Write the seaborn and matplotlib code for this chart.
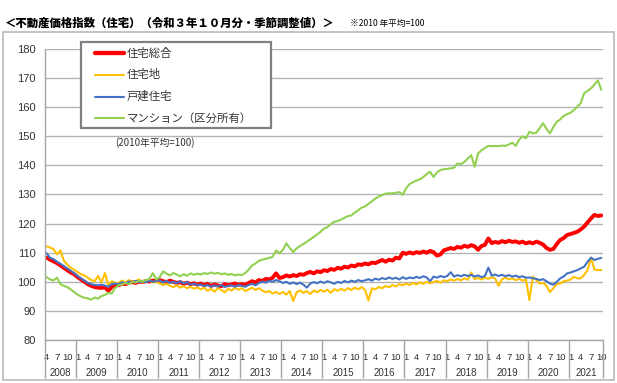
import matplotlib
matplotlib.use("Agg")
import matplotlib.pyplot as plt
import seaborn as sns
import pandas as pd
from matplotlib.patches import Rectangle
from matplotlib.lines import Line2D

# ---------------- data (monthly, 2008-04 .. 2021-10) ----------------
years = list(range(2008, 2022))
series_names = ["住宅総合", "住宅地", "戸建住宅", "マンション（区分所有）"]
series_colors = ["#FF0000", "#FFC000", "#4472C4", "#92D050"]

sogo = [
    108.3, 107.6, 107.0, 106.4, 105.6, 104.8, 104.0, 103.2, 102.6,
    101.6, 100.8, 100.0, 99.2, 98.6, 98.2, 98.0, 97.9, 98.1, 96.9, 98.2, 99.0,
    98.8, 99.4, 99.2, 99.7, 99.9, 99.6, 100.1, 99.9, 100.3, 100.1, 100.4, 100.2,
    100.6, 100.2, 99.9, 100.4, 100.0, 99.6, 99.9, 99.3, 99.7, 99.2, 99.5, 99.0,
    99.4, 98.9, 99.3, 98.6, 99.1, 98.7, 98.5, 99.2, 98.8, 99.1, 99.4, 99.0,
    99.2, 99.0, 99.6, 100.2, 99.8, 100.6, 100.3, 101.0, 100.8, 101.4, 102.9, 101.3,
    101.6, 102.2, 101.8, 102.3, 102.0, 102.6, 102.4, 103.0, 103.4, 102.9, 103.6, 103.3,
    104.0, 103.7, 104.4, 104.1, 104.8, 104.5, 105.2, 104.9, 105.6, 105.3, 106.0, 105.8,
    106.3, 106.0, 106.6, 106.4, 107.0, 107.5, 106.9, 107.6, 107.3, 108.3, 108.0, 110.0,
    109.6, 110.1, 109.7, 110.2, 109.9, 110.4, 110.0, 110.6, 110.2, 109.0, 109.4, 110.8,
    111.2, 111.6, 111.3, 112.0, 111.7, 112.4, 112.0, 112.6, 112.2, 111.0, 112.3, 112.7,
    114.9, 113.3, 113.7, 113.4, 114.0, 113.6, 114.1, 113.7, 113.9, 113.4, 113.8, 113.2,
    113.6, 113.2, 113.8, 113.4, 112.8, 111.6, 111.0, 111.3, 113.0, 114.4, 115.0, 116.1,
    116.4, 116.8, 117.2, 118.0, 119.0, 120.4, 121.8, 123.0, 122.6, 122.8,
]

takuchi = [
    112.2, 111.8, 111.2, 109.4, 110.8, 107.2, 106.0, 104.8, 104.2,
    103.4, 102.6, 102.2, 101.4, 100.6, 100.2, 102.0, 99.8, 103.0, 98.9, 100.2, 99.6,
    99.6, 100.4, 99.8, 100.6, 99.9, 100.3, 100.8, 99.7, 100.2, 100.5, 99.8, 100.1,
    99.4, 98.9, 99.3, 98.6, 98.2, 98.8, 98.0, 98.5, 97.8, 98.3, 97.6, 98.1,
    97.4, 98.0, 96.9, 97.6, 96.6, 97.8, 97.2, 96.4, 97.6, 97.0, 97.9, 97.3,
    97.8, 96.8, 97.4, 98.0, 97.2, 97.8, 97.0, 96.4, 96.8, 96.0, 96.5, 95.8,
    96.5, 95.6, 96.8, 93.4, 96.4, 97.0, 96.2, 96.8, 95.8, 97.0, 96.4, 97.2,
    96.6, 97.3, 96.2, 97.5, 96.9, 97.6, 97.0, 97.8, 97.2, 98.0, 97.4, 98.2,
    97.2, 93.6, 97.8, 97.4, 98.2, 97.8, 98.6, 98.1, 98.9, 98.4, 99.2, 98.8,
    99.4, 98.9, 99.6, 99.1, 99.8, 99.3, 100.0, 99.5, 99.9, 100.3, 99.7, 100.5,
    100.2, 100.8, 100.4, 101.0, 100.5, 101.2, 100.7, 103.2, 100.9, 101.3, 100.8, 101.4,
    101.0, 101.6, 101.1, 98.6, 100.9, 101.4, 100.8, 101.2, 100.6, 101.0, 100.4, 100.8,
    93.7, 101.8, 100.6, 99.4, 99.6, 98.6, 96.5, 97.8, 99.2, 99.4, 100.2, 100.4,
    100.8, 101.7, 101.2, 101.2, 102.4, 104.0, 108.3, 104.2, 104.0, 104.1,
]

kodate = [
    109.8, 108.2, 107.8, 106.9, 106.2, 105.4, 104.6, 103.8, 103.0,
    102.0, 101.2, 100.4, 99.6, 99.2, 98.9, 98.8, 99.0, 98.7, 98.3, 99.2, 99.4,
    99.2, 99.8, 99.5, 100.1, 99.8, 100.3, 99.9, 100.2, 99.8, 100.4, 100.0, 100.3,
    100.5, 99.8, 100.3, 99.6, 100.0, 99.5, 100.2, 99.4, 99.9, 99.0, 99.4, 98.8,
    99.1, 98.5, 98.9, 98.3, 98.8, 98.4, 98.9, 98.2, 98.6, 98.8, 98.3, 98.9,
    98.6, 98.3, 98.9, 99.3, 98.8, 99.6, 100.1, 99.7, 100.4, 100.0, 100.6, 100.2,
    99.6, 100.0, 99.3, 99.8, 99.2, 99.7, 99.0, 98.0, 99.4, 99.9, 99.5, 100.1,
    99.6, 100.2, 99.8, 99.3, 100.0, 99.6, 100.3, 99.8, 100.4, 100.0, 100.6, 100.2,
    100.5, 100.9, 100.4, 101.1, 100.7, 101.3, 100.9, 101.5, 101.0, 101.4, 100.8, 101.6,
    101.0, 101.5, 101.2, 101.7, 101.3, 101.9, 101.5, 100.2, 101.8, 101.4, 102.0, 101.6,
    102.0, 103.3, 101.8, 102.3, 101.9, 102.4, 102.0, 102.4, 101.8, 102.2, 101.6, 102.0,
    104.9, 102.1, 102.5, 102.0, 102.4, 101.9, 102.3, 101.8, 102.1, 101.6, 101.9, 101.4,
    101.5, 101.2, 101.0, 100.6, 100.9, 100.2, 99.4, 99.0, 100.0, 101.2, 101.8, 102.9,
    103.2, 103.6, 104.0, 104.6, 105.2, 106.9, 108.3, 107.5, 107.9, 108.2,
]

mansion = [
    101.6, 100.8, 100.5, 101.4, 99.2, 98.6, 98.2, 97.4, 96.5,
    95.6, 95.0, 94.5, 94.3, 93.9, 94.6, 94.2, 95.1, 95.5, 96.2, 96.0, 97.9,
    98.8, 99.1, 99.6, 99.2, 100.0, 99.7, 100.4, 100.2, 100.6, 101.0, 103.0, 100.8,
    101.6, 103.6, 102.8, 102.2, 103.0, 102.5, 101.9, 102.6, 102.1, 102.9, 102.4, 102.8,
    102.5, 103.0, 102.7, 103.2, 102.8, 103.1, 102.6, 102.9, 102.4, 102.7, 102.2, 102.5,
    102.3, 103.0, 104.2, 105.6, 106.3, 107.2, 107.6, 107.9, 108.2, 108.6, 110.8, 109.8,
    111.0, 113.2, 111.6, 110.2, 111.5, 112.3, 113.0, 113.8, 114.6, 115.4, 116.3, 117.2,
    118.3, 118.8, 119.8, 120.6, 120.9, 121.4, 122.0, 122.6, 122.8, 123.8, 124.6, 125.5,
    125.9, 126.8, 127.7, 128.6, 129.3, 129.8, 130.3, 130.4, 130.4, 130.6, 130.8, 129.9,
    132.2, 133.6, 134.2, 134.8, 135.2, 136.0, 137.0, 137.8, 136.0, 137.6, 138.4, 138.7,
    138.8, 139.0, 139.2, 140.7, 140.4, 141.2, 142.4, 143.5, 139.5, 144.1, 145.2, 146.0,
    146.7, 146.6, 146.7, 146.6, 146.8, 146.7, 147.2, 147.8, 146.7, 148.8, 150.0, 149.3,
    151.6, 151.0, 151.2, 152.8, 154.5, 152.5, 151.0, 153.2, 155.0, 155.8, 157.0, 157.6,
    158.1, 159.0, 160.2, 161.4, 164.8, 165.6, 166.5, 167.8, 169.2, 166.0,
]

# month / year of each point
month_nums = list(range(4, 13)) + list(range(1, 13)) * 12 + list(range(1, 11))
year_nums = [2008] * 9 + sum([[y] * 12 for y in range(2009, 2021)], []) + [2021] * 10
n = len(sogo)

yticks = list(range(80, 181, 10))
title = "＜不動産価格指数（住宅）（令和３年１０月分・季節調整値）＞"
note = "※2010 年平均=100"
base_note = "(2010年平均=100)"

# ---------------- styling ----------------
sns.set_style("white")
plt.rcParams["font.family"] = ["Noto Sans CJK JP", "DejaVu Sans"]

W, H = 617, 383
fig = plt.figure(figsize=(W / 100, H / 100), dpi=100)
fig.patch.set_facecolor("white")


def fy(py):
    return 1 - py / H


ax_l, ax_r, ax_t, ax_b = 45, 603, 49, 340
ax = fig.add_axes([ax_l / W, (H - ax_b) / H, (ax_r - ax_l) / W, (ax_b - ax_t) / H])

df = pd.DataFrame({"idx": range(n),
                   series_names[0]: sogo,
                   series_names[1]: takuchi,
                   series_names[2]: kodate,
                   series_names[3]: mansion})
long = df.melt(id_vars="idx", var_name="series", value_name="value")
sizes = {series_names[0]: 2.8, series_names[1]: 1.5,
         series_names[2]: 1.5, series_names[3]: 1.5}
sns.lineplot(data=long, x="idx", y="value", hue="series", hue_order=series_names,
             palette=dict(zip(series_names, series_colors)), size="series",
             sizes=sizes, size_order=series_names, errorbar=None,
             legend=False, ax=ax)

ax.set_xlim(-0.5, n - 0.5)
ax.set_ylim(80, 180)
ax.set_xlabel("")
ax.set_ylabel("")
ax.set_yticks(yticks)
ax.grid(axis="y", color="#b3b3b3", lw=1.0)
ax.grid(axis="x", visible=False)
for s in ["top", "right"]:
    ax.spines[s].set_visible(False)
ax.spines["left"].set_color("#a6a6a6")
ax.spines["bottom"].set_color("#a6a6a6")
ax.spines["left"].set_linewidth(1.0)
ax.spines["bottom"].set_linewidth(1.0)

ax.tick_params(axis="y", which="major", length=3.5, width=0.8, color="#a6a6a6",
               pad=3, labelsize=8, labelcolor="#333333")
for lab in ax.get_yticklabels():
    lab.set_family(["Liberation Sans", "DejaVu Sans"])

# month ticks (1,4,7,10)
pos = [i for i, m in enumerate(month_nums) if m in (1, 4, 7, 10)]
labs = [str(month_nums[i]) for i in pos]
ax.set_xticks(pos)
ax.set_xticklabels(labs)
ax.tick_params(axis="x", length=0, pad=9, labelsize=6.8, labelcolor="#333333")
for lab in ax.get_xticklabels():
    lab.set_family(["Liberation Sans Narrow", "Liberation Sans", "DejaVu Sans"])

# year separators and year labels
xt = ax.get_xaxis_transform()
bounds = [-0.5]
for y in years:
    idx = [i for i, yy in enumerate(year_nums) if yy == y]
    bounds.append(idx[-1] + 0.5)
    ax.text((idx[0] + idx[-1]) / 2, -(372.5 - ax_b) / (ax_b - ax_t), str(y),
            transform=xt, ha="center", va="center", fontsize=7,
            color="#333333", family=["Liberation Sans Narrow", "Liberation Sans"])
ax.vlines(bounds, -(378 - ax_b) / (ax_b - ax_t), 0, transform=xt,
          colors="#a6a6a6", lw=1.0, clip_on=False)

# titles / notes
fig.text(5 / W, fy(23), title, fontsize=8.2, fontweight="heavy", va="center",
         ha="left", color="black")
fig.text(350 / W, fy(23), note, fontsize=6.2, va="center", ha="left", color="black")
fig.text(115 / W, fy(143), base_note, fontsize=7, va="center", ha="left",
         color="#333333")

# outer frame
fig.add_artist(Rectangle((3 / W, fy(380)), 611 / W, (380 - 32) / H,
                         transform=fig.transFigure, fill=False,
                         edgecolor="#bfbfbf", lw=1.3))

# legend box
lx0, ly0, lx1, ly1 = 81, 42, 271, 128
fig.add_artist(Rectangle((lx0 / W, fy(ly1)), (lx1 - lx0) / W, (ly1 - ly0) / H,
                         transform=fig.transFigure, facecolor="white",
                         edgecolor="#808080", lw=1.6, zorder=5))
rows = [53, 74.5, 96.5, 118]
for name, col, ry in zip(series_names, series_colors, rows):
    fig.add_artist(Line2D([95 / W, 124 / W], [fy(ry), fy(ry)],
                          transform=fig.transFigure, color=col,
                          lw=sizes[name] + (0.3 if name == series_names[0] else 0),
                          zorder=6))
    fig.text(127 / W, fy(ry), name, fontsize=8.2, va="center", ha="left",
             color="#333333", zorder=6)

fig.savefig("out.png", dpi=100, facecolor="white")
